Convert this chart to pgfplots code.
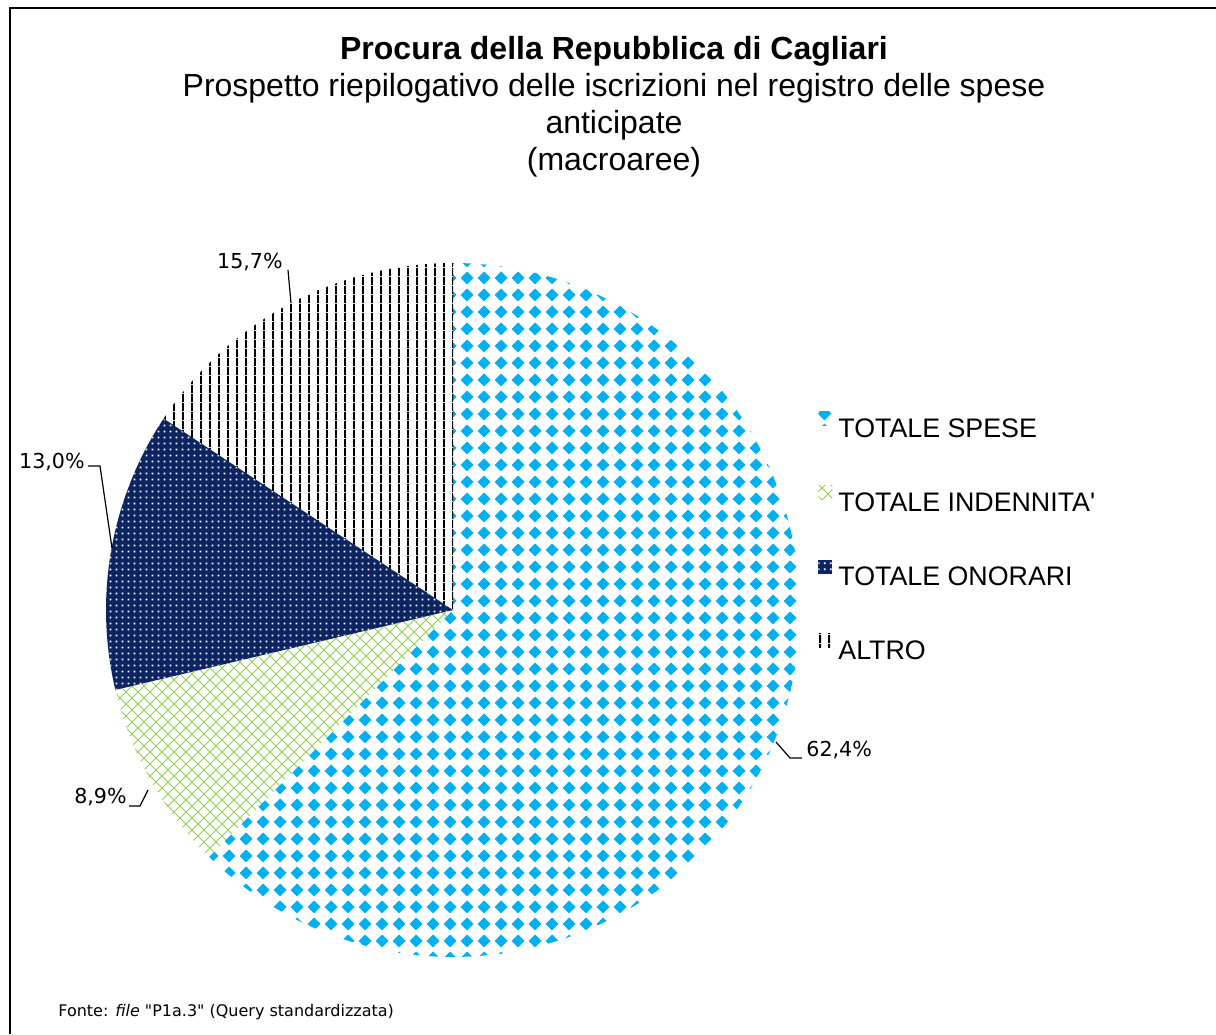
\documentclass[border=0pt]{standalone}
\usepackage{pgfplots}
\pgfplotsset{compat=1.18}
\usepackage{pgfplotstable}
\usetikzlibrary{patterns}
\usepackage{fontspec}
\setmainfont{Liberation Sans}[Ligatures=TeXOff]
\newfontfamily\verdana{DejaVu Sans}[Ligatures=TeXOff]

\definecolor{spese}{RGB}{0,176,240}
\definecolor{indenn}{RGB}{146,208,80}
\definecolor{onorari}{RGB}{12,36,96}

% patterns (1pt = 2px of the reference)
\pgfdeclarepatternformonly{diamonds}{\pgfqpoint{0pt}{0pt}}{\pgfqpoint{8.5pt}{8.5pt}}{\pgfqpoint{8.5pt}{8.5pt}}{%
  \pgfpathmoveto{\pgfqpoint{4.25pt}{0.85pt}}
  \pgfpathlineto{\pgfqpoint{7.65pt}{4.25pt}}
  \pgfpathlineto{\pgfqpoint{4.25pt}{7.65pt}}
  \pgfpathlineto{\pgfqpoint{0.85pt}{4.25pt}}
  \pgfpathclose
  \pgfusepath{fill}}
\pgfdeclarepatternformonly{lattice}{\pgfqpoint{-0.5pt}{-0.5pt}}{\pgfqpoint{6.5pt}{6.5pt}}{\pgfqpoint{6pt}{6pt}}{%
  \pgfsetlinewidth{0.5pt}
  \pgfpathmoveto{\pgfqpoint{0pt}{0pt}}\pgfpathlineto{\pgfqpoint{6pt}{6pt}}
  \pgfpathmoveto{\pgfqpoint{0pt}{6pt}}\pgfpathlineto{\pgfqpoint{6pt}{0pt}}
  \pgfusepath{stroke}}
\pgfdeclarepatternformonly{finedots}{\pgfqpoint{0pt}{0pt}}{\pgfqpoint{3pt}{3pt}}{\pgfqpoint{3pt}{3pt}}{%
  \pgfpathrectangle{\pgfqpoint{1pt}{1pt}}{\pgfqpoint{1pt}{1pt}}
  \pgfusepath{fill}}
\pgfdeclarepatternformonly{vlines}{\pgfqpoint{0pt}{0pt}}{\pgfqpoint{4.25pt}{4.25pt}}{\pgfqpoint{4.25pt}{4.25pt}}{%
  \pgfpathrectangle{\pgfqpoint{1.6pt}{0pt}}{\pgfqpoint{1pt}{4.25pt}}
  \pgfusepath{fill}}

% shares in percent
\pgfplotstableread{
name     share
spese    62.4
indenn   8.9
onorari  13.0
altro    15.7
}\sharetable

\begin{document}
\begin{tikzpicture}
\pgfplotstablegetelem{0}{share}\of\sharetable \let\sA\pgfplotsretval
\pgfplotstablegetelem{1}{share}\of\sharetable \let\sB\pgfplotsretval
\pgfplotstablegetelem{2}{share}\of\sharetable \let\sC\pgfplotsretval
\pgfplotstablegetelem{3}{share}\of\sharetable \let\sD\pgfplotsretval
% slices run clockwise from 12 o'clock
\pgfmathsetmacro\aA{90}
\pgfmathsetmacro\aB{\aA-3.6*\sA}
\pgfmathsetmacro\aC{\aB-3.6*\sB}
\pgfmathsetmacro\aD{\aC-3.6*\sC}
\pgfmathsetmacro\aE{\aD-3.6*\sD}
\def\cx{453}\def\cy{424}\def\rr{347}
\begin{axis}[
  width=608pt, height=517pt, scale only axis,
  xmin=0, xmax=1216, ymin=0, ymax=1034,
  hide axis, clip=false,
  legend style={draw=none, fill=none, inner sep=0pt, font=\fontsize{13.4}{14}\selectfont,
    at={(axis cs:818,622.5)}, anchor=north west,
    row sep=24pt, column sep=3pt,
    nodes={inner sep=0pt, text height=9.5pt, text depth=0pt}},
  legend cell align=left,
  legend image code/.code={\path[#1, draw=none] (0pt,1.25pt) rectangle (7pt,8.25pt);},
]
\addplot[draw=none, pattern=diamonds, pattern color=spese, domain=\aA:\aB, samples=120, variable=\t]
  ({\cx+\rr*cos(t)}, {\cy+\rr*sin(t)}) -- (axis cs:\cx,\cy) -- cycle;
\addlegendentry{TOTALE SPESE}
\addplot[draw=none, pattern=lattice, pattern color=indenn, domain=\aB:\aC, samples=30, variable=\t]
  ({\cx+\rr*cos(t)}, {\cy+\rr*sin(t)}) -- (axis cs:\cx,\cy) -- cycle;
\addlegendentry{TOTALE INDENNITA'}
\addplot[draw=none, fill=onorari, postaction={pattern=finedots, pattern color=white}, domain=\aC:\aD, samples=40, variable=\t]
  ({\cx+\rr*cos(t)}, {\cy+\rr*sin(t)}) -- (axis cs:\cx,\cy) -- cycle;
\addlegendentry{TOTALE ONORARI}
\addplot[draw=none, pattern=vlines, pattern color=black, domain=\aD:\aE, samples=50, variable=\t]
  ({\cx+\rr*cos(t)}, {\cy+\rr*sin(t)}) -- (axis cs:\cx,\cy) -- cycle;
\addlegendentry{ALTRO}

% frame
\draw[line width=1pt] (axis cs:10,0) -- (axis cs:10,1026) -- (axis cs:1216,1026);

% title
\node[align=center, font=\fontsize{16}{18.5}\selectfont] at (axis cs:614,927.5)
  {\textbf{Procura della Repubblica di Cagliari}\\
   Prospetto riepilogativo delle iscrizioni nel registro delle spese\\
   anticipate\\
   (macroaree)};

% data labels with leader lines
\begin{scope}[font=\verdana\fontsize{10.3}{12}\selectfont]
\draw[line width=0.6pt] (axis cs:776,292) -- (axis cs:790,276) -- (axis cs:802,276);
\node[anchor=west, inner sep=0pt] at (axis cs:806,284) {62,4\%};
\draw[line width=0.6pt] (axis cs:148,244) -- (axis cs:140,228) -- (axis cs:129,228);
\node[anchor=east, inner sep=0pt] at (axis cs:127,237) {8,9\%};
\draw[line width=0.6pt] (axis cs:112,486) -- (axis cs:100,568) -- (axis cs:88,568);
\node[anchor=east, inner sep=0pt] at (axis cs:85,572) {13,0\%};
\draw[line width=0.6pt] (axis cs:291,731) -- (axis cs:288,764);
\node[anchor=east, inner sep=0pt] at (axis cs:283,772) {15,7\%};
\end{scope}

% source
\node[anchor=west, inner sep=0pt, font=\verdana\fontsize{8}{10}\selectfont] at (axis cs:58,22)
  {Fonte: \textit{file} "P1a.3" (Query standardizzata)};
\end{axis}
\pgfresetboundingbox
\path (current axis.south west) rectangle (current axis.north east);
\end{tikzpicture}
\end{document}
